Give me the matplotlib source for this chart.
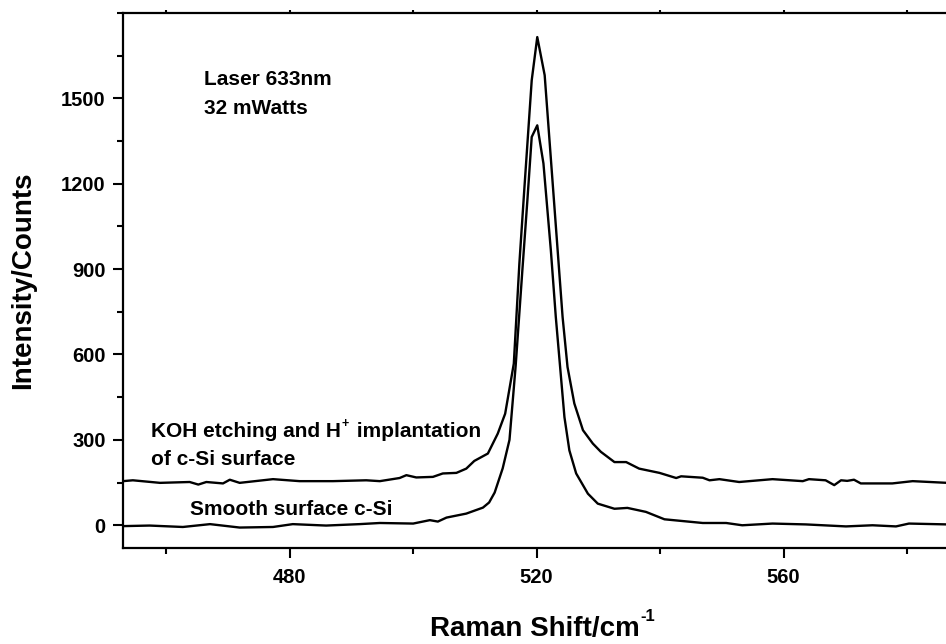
import numpy as np
import matplotlib
matplotlib.use("Agg")
import matplotlib.pyplot as plt
from matplotlib.ticker import MultipleLocator

plt.rcParams['font.family'] = ['Liberation Sans', 'DejaVu Sans']
plt.rcParams['font.weight'] = 'bold'

# KOH etched + H+ implanted c-Si (upper trace)
koh_x = [453.0, 454.6, 459.0, 463.8, 465.2, 466.5, 469.2, 470.3, 471.9, 477.3,
         481.6, 487.0, 492.4, 494.6, 497.8, 498.9, 500.5, 503.2, 504.8, 507.0,
         508.6, 509.9, 512.1, 513.7, 514.9, 516.3, 517.2, 518.0, 519.2, 520.1,
         521.3, 523.4, 524.2, 525.0, 526.1, 527.5, 529.1, 530.4, 532.6, 534.5,
         536.6, 539.9, 542.6, 543.4, 546.9, 548.0, 549.6, 552.8, 558.2, 563.1,
         564.1, 566.8, 568.2, 569.3, 570.3, 571.4, 572.5, 577.6, 580.9, 586.5]
koh_y = [155, 158, 149, 152, 143, 152, 147, 160, 149, 162,
         155, 155, 158, 155, 166, 176, 168, 170, 182, 184,
         199, 226, 252, 322, 392, 568, 919, 1180, 1563, 1715,
         1581, 966, 732, 556, 428, 334, 287, 258, 222, 222,
         199, 184, 166, 172, 167, 158, 162, 152, 162, 155,
         162, 158, 141, 158, 156, 160, 147, 147, 155, 149]

# smooth surface c-Si (lower trace)
smooth_x = [453.0, 457.3, 462.7, 467.1, 471.9, 477.3, 480.5, 485.9, 491.3, 494.6,
            500.0, 502.7, 504.0, 505.4, 508.6, 511.3, 512.3, 513.2, 514.5, 515.6,
            516.6, 517.7, 518.5, 519.2, 520.1, 521.1, 522.3, 523.1, 523.8, 524.5,
            525.3, 526.4, 528.3, 529.9, 532.6, 534.7, 537.7, 540.7, 546.9, 550.7,
            553.3, 558.2, 563.6, 570.1, 574.4, 578.2, 580.3, 586.5]
smooth_y = [-3, -1, -6, 4, -8, -6, 4, -1, 4, 8,
            6, 18, 13, 27, 41, 62, 80, 115, 200, 300,
            560, 900, 1142, 1364, 1405, 1271, 966, 732, 556, 380,
            263, 182, 111, 76, 58, 61, 47, 21, 8, 8,
            0, 6, 3, -4, 0, -4, 6, 3]

fig = plt.figure(figsize=(9.46, 6.44), dpi=100)
ax = fig.add_axes([0.130, 0.149, 0.870, 0.831])

ax.plot(koh_x, koh_y, color='black', lw=1.7)
ax.plot(smooth_x, smooth_y, color='black', lw=1.7)

ax.set_xlim(453, 586.3)
ax.set_ylim(-80, 1800)
ax.set_xticks([480, 520, 560])
ax.xaxis.set_minor_locator(MultipleLocator(20))
ax.set_yticks([0, 300, 600, 900, 1200, 1500])
ax.yaxis.set_minor_locator(MultipleLocator(150))

for s in ['left', 'bottom', 'top']:
    ax.spines[s].set_linewidth(1.6)
ax.spines['right'].set_visible(False)

ax.tick_params(which='major', direction='out', length=7.5, width=1.5,
               labelsize=14.5, pad=5)
ax.tick_params(which='minor', direction='out', length=4, width=1.5)
ax.tick_params(axis='x', which='major', pad=7)
# tiny marks on the top spine
ax.tick_params(axis='x', which='both', top=True, labeltop=False)
for line in ax.xaxis.get_majorticklines()[1::2] + ax.xaxis.get_minorticklines()[1::2]:
    line.set_markersize(2)

xl = ax.set_xlabel('Raman Shift/cm', fontsize=20, fontweight='bold', labelpad=21)
ax.annotate('-1', xy=(1, 1), xycoords=xl, xytext=(1, 0), textcoords='offset points',
            fontsize=12, fontweight='bold', ha='left', va='center')
ax.set_ylabel('Intensity/Counts', fontsize=20, fontweight='bold', labelpad=18)

ax.text(466.2, 1567, 'Laser 633nm', fontsize=15, fontweight='bold',
        ha='left', va='center')
ax.text(466.2, 1465, '32 mWatts', fontsize=15, fontweight='bold',
        ha='left', va='center')

t1 = ax.text(457.6, 331, 'KOH etching and H', fontsize=15, fontweight='bold',
             ha='left', va='center')
t2 = ax.annotate('+', xy=(1, 1), xycoords=t1, xytext=(0.5, 2.5),
                 textcoords='offset points', fontsize=9, fontweight='bold',
                 ha='left', va='top')
ax.annotate(' implantation', xy=(1, 0), xycoords=(t2, t1), xytext=(1, 0),
            textcoords='offset points', fontsize=15,
            fontweight='bold', ha='left', va='bottom')
ax.text(457.6, 232, 'of c-Si surface', fontsize=15, fontweight='bold',
        ha='left', va='center')
ax.text(463.9, 55, 'Smooth surface c-Si', fontsize=15, fontweight='bold',
        ha='left', va='center')

fig.savefig('out.png', dpi=100)
